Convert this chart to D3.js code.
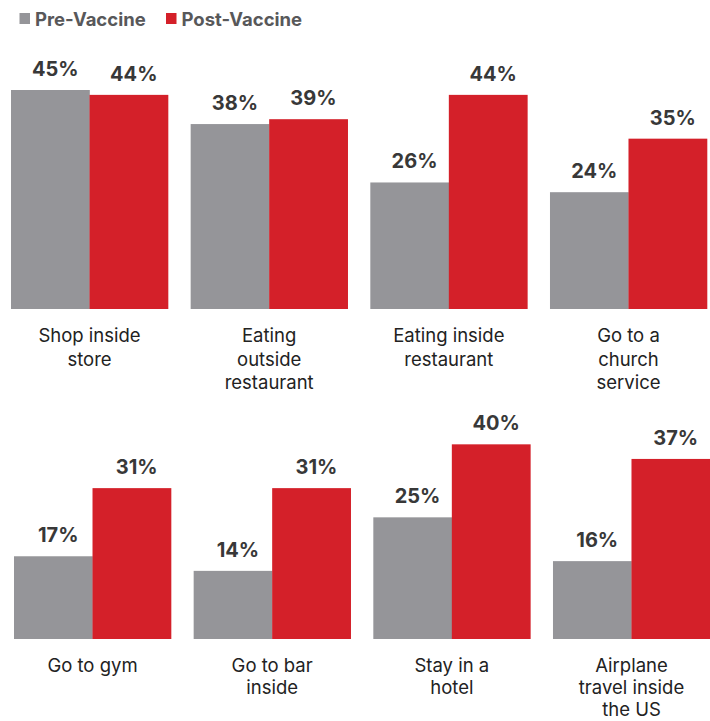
<!DOCTYPE html>
<html>
<head>
<meta charset="utf-8">
<script src="https://cdn.jsdelivr.net/npm/d3@7"></script>
<style>
  html, body { margin: 0; padding: 0; background: #fff; }
  svg { display: block; font-family: Inter, "Noto Sans", sans-serif; }
</style>
</head>
<body>
<svg id="chart" width="710" height="721"></svg>
<script>
// 数据
const categories = [
  'Shop inside store', 'Eating outside restaurant', 'Eating inside restaurant', 'Go to a church service',
  'Go to gym', 'Go to bar inside', 'Stay in a hotel', 'Airplane travel inside the US'
];
// 换行后的类目标签
const categoryLines = [
  ['Shop inside', 'store'],
  ['Eating', 'outside', 'restaurant'],
  ['Eating inside', 'restaurant'],
  ['Go to a', 'church', 'service'],
  ['Go to gym'],
  ['Go to bar', 'inside'],
  ['Stay in a', 'hotel'],
  ['Airplane', 'travel inside', 'the US']
];
const seriesNames = ['Pre-Vaccine', 'Post-Vaccine'];
const preVaccine = [45, 38, 26, 24, 17, 14, 25, 16];
const postVaccine = [44, 39, 44, 35, 31, 31, 40, 37];
const colors = ['#959599', '#d42029'];

const svg = d3.select('#chart');

// 两行面板，每行4个
const rows = [
  { cats: categories.slice(0, 4), baseline: 309, x0: 11, x1: 707, lineGap: 23.5 },
  { cats: categories.slice(4, 8), baseline: 639, x0: 14, x1: 710, lineGap: 22 }
];

// 数值比例尺 (约4.87px / %)
const yHeight = d3.scaleLinear().domain([0, 45]).range([0, 219]);

// 图例
const legend = svg.append('g').attr('class', 'legend');
const legendX = [19.5, 166];
seriesNames.forEach((name, i) => {
  legend.append('rect')
    .attr('x', legendX[i]).attr('y', 13)
    .attr('width', 10.5).attr('height', 11)
    .attr('fill', colors[i]);
  legend.append('text')
    .attr('x', legendX[i] + 15.5).attr('y', 26)
    .attr('font-size', 18.5).attr('font-weight', 700)
    .attr('fill', '#58585a')
    .text(name);
});

rows.forEach(row => {
  const x = d3.scaleBand()
    .domain(row.cats)
    .range([row.x0, row.x1])
    .paddingInner(0.126)
    .paddingOuter(0);
  const xInner = d3.scaleBand()
    .domain(seriesNames)
    .range([0, x.bandwidth()]);

  const panel = svg.append('g')
    .selectAll('g')
    .data(row.cats)
    .join('g')
    .attr('transform', d => `translate(${x(d)},0)`);

  panel.each(function (cat) {
    const idx = categories.indexOf(cat);
    const vals = [preVaccine[idx], postVaccine[idx]];
    const g = d3.select(this);

    // 柱子
    g.selectAll('rect')
      .data(vals)
      .join('rect')
      .attr('x', (d, i) => xInner(seriesNames[i]))
      .attr('y', d => row.baseline - yHeight(d))
      .attr('width', xInner.bandwidth() + 0.3)
      .attr('height', d => yHeight(d))
      .attr('fill', (d, i) => colors[i]);

    // 数值标签
    g.selectAll('text.value')
      .data(vals)
      .join('text')
      .attr('class', 'value')
      .attr('x', (d, i) => xInner(seriesNames[i]) + xInner.bandwidth() / 2 + 5)
      .attr('y', d => row.baseline - yHeight(d) - 14)
      .attr('text-anchor', 'middle')
      .attr('font-size', 20).attr('font-weight', 700)
      .attr('fill', '#383838')
      .text(d => d + '%');

    // 类目标签
    g.append('text')
      .attr('class', 'cat')
      .attr('text-anchor', 'middle')
      .attr('font-size', 18.5)
      .attr('fill', '#222')
      .selectAll('tspan')
      .data(categoryLines[idx])
      .join('tspan')
      .attr('x', x.bandwidth() / 2)
      .attr('y', (d, i) => row.baseline + 33 + i * row.lineGap)
      .text(d => d);
  });
});
</script>
</body>
</html>
